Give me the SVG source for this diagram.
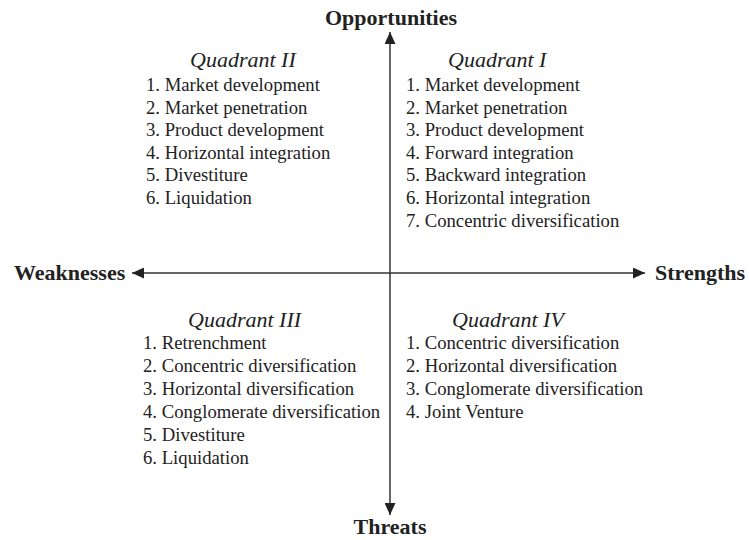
<svg xmlns="http://www.w3.org/2000/svg" width="749" height="540" viewBox="0 0 749 540">
<style>
.ax{font-family:"Liberation Serif","Times New Roman",serif;font-weight:bold;font-size:22px;fill:#222}
.t{font-family:"Liberation Serif","Times New Roman",serif;font-style:italic;font-size:22px;fill:#222}
.i{font-family:"Liberation Serif","Times New Roman",serif;font-size:18.7px;fill:#222}
.ln{stroke:#333;stroke-width:1.5;fill:none}
</style>
<defs>
<marker id="ah" viewBox="0 0 12 11" refX="12" refY="5.5" markerWidth="12" markerHeight="11" markerUnits="userSpaceOnUse" orient="auto">
<path d="M0,0 L12,5.5 L0,11 Z" fill="#222"/>
</marker>
</defs>
<rect width="749" height="540" fill="#fff"/>
<g id="connectors">
<line class="ln" x1="390" y1="273" x2="390" y2="32" marker-end="url(#ah)"/>
<line class="ln" x1="390" y1="273" x2="390" y2="515" marker-end="url(#ah)"/>
<line class="ln" x1="390" y1="273" x2="132" y2="273" marker-end="url(#ah)"/>
<line class="ln" x1="390" y1="273" x2="645" y2="273" marker-end="url(#ah)"/>
</g>
<g id="opportunities"><text class="ax" x="391" y="25" text-anchor="middle">Opportunities</text></g>
<g id="threats"><text class="ax" x="390" y="534" text-anchor="middle">Threats</text></g>
<g id="weaknesses"><text class="ax" x="14" y="280">Weaknesses</text></g>
<g id="strengths"><text class="ax" x="655" y="280">Strengths</text></g>
<g id="quadrant2">
<text class="t" x="190" y="67">Quadrant II</text>
<text class="i" x="146" y="91">1. Market development</text>
<text class="i" x="146" y="113.6">2. Market penetration</text>
<text class="i" x="146" y="136.2">3. Product development</text>
<text class="i" x="146" y="158.8">4. Horizontal integration</text>
<text class="i" x="146" y="181.4">5. Divestiture</text>
<text class="i" x="146" y="204">6. Liquidation</text>
</g>
<g id="quadrant1">
<text class="t" x="448" y="67">Quadrant I</text>
<text class="i" x="406" y="91">1. Market development</text>
<text class="i" x="406" y="113.6">2. Market penetration</text>
<text class="i" x="406" y="136.2">3. Product development</text>
<text class="i" x="406" y="158.8">4. Forward integration</text>
<text class="i" x="406" y="181.4">5. Backward integration</text>
<text class="i" x="406" y="204">6. Horizontal integration</text>
<text class="i" x="406" y="226.6">7. Concentric diversification</text>
</g>
<g id="quadrant3">
<text class="t" x="188" y="327">Quadrant III</text>
<text class="i" x="143" y="349">1. Retrenchment</text>
<text class="i" x="143" y="372">2. Concentric diversification</text>
<text class="i" x="143" y="395">3. Horizontal diversification</text>
<text class="i" x="143" y="418">4. Conglomerate diversification</text>
<text class="i" x="143" y="441">5. Divestiture</text>
<text class="i" x="143" y="464">6. Liquidation</text>
</g>
<g id="quadrant4">
<text class="t" x="452" y="327">Quadrant IV</text>
<text class="i" x="406" y="349">1. Concentric diversification</text>
<text class="i" x="406" y="372">2. Horizontal diversification</text>
<text class="i" x="406" y="395">3. Conglomerate diversification</text>
<text class="i" x="406" y="418">4. Joint Venture</text>
</g>
</svg>
